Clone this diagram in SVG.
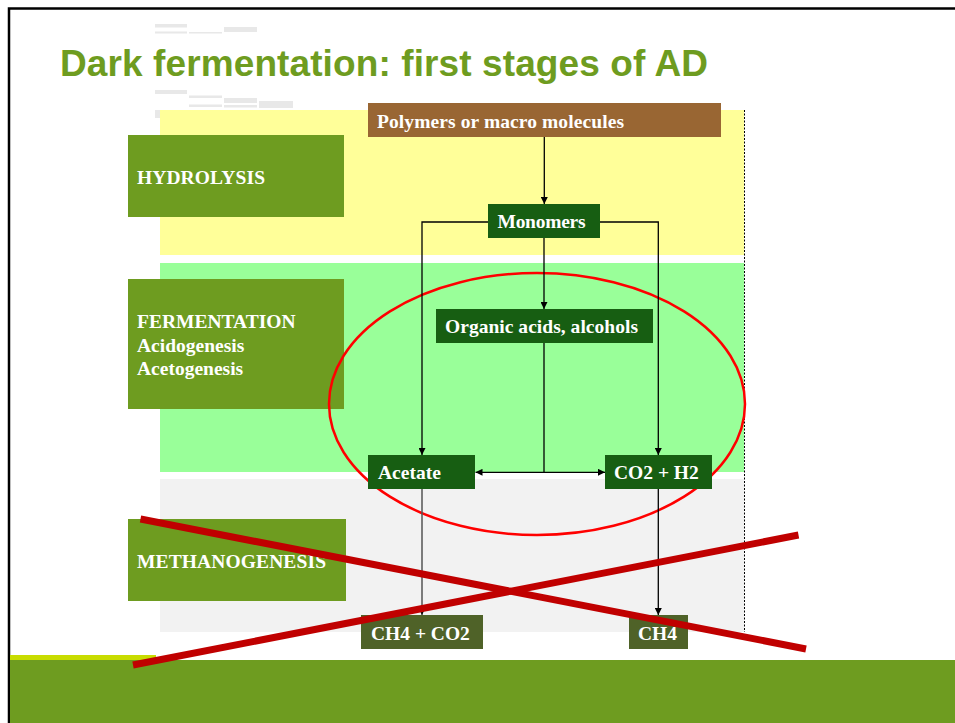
<svg xmlns="http://www.w3.org/2000/svg" width="955" height="723" viewBox="0 0 955 723">
<defs>
<style>
.lbl{fill:#6E9C20}
.node{fill:#175E12}
.out{fill:#4F6228}
.t{font-family:"Liberation Serif","Times New Roman",serif;font-weight:bold;font-size:19.5px;fill:#FFFFFF}
.ln{stroke:#000;stroke-width:1.3;fill:none}
.deco{fill:#E8E8E8}
</style>
<marker id="ah" viewBox="0 0 10 10" refX="10" refY="5" markerWidth="7" markerHeight="7" markerUnits="userSpaceOnUse" orient="auto-start-reverse">
<path d="M0,0 L10,5 L0,10 z" fill="#000"/>
</marker>
</defs>
<rect x="0" y="0" width="955" height="723" fill="#FFFFFF"/>
<!-- frame -->
<path d="M9,723 L9,8.5 L955,8.5" stroke="#000" stroke-width="2.5" fill="none"/>
<!-- faint decorations -->
<g id="decorations">
<rect class="deco" x="155" y="24" width="32" height="3.5"/>
<rect class="deco" x="155" y="31.5" width="32" height="2"/>
<rect class="deco" x="189" y="32" width="33" height="1.5"/>
<rect class="deco" x="224" y="27" width="33" height="5"/>
<rect class="deco" x="155" y="90" width="32" height="4"/>
<rect class="deco" x="189" y="95.5" width="33" height="2.5"/>
<rect class="deco" x="189" y="104.5" width="33" height="2.5"/>
<rect class="deco" x="224" y="98" width="33" height="5"/>
<rect class="deco" x="224" y="105" width="33" height="2.5"/>
<rect class="deco" x="259" y="101" width="34" height="7"/>
<rect class="deco" x="155" y="110" width="5" height="8"/>
</g>
<text x="60" y="76" font-family="Liberation Sans, Arial, sans-serif" font-weight="bold" font-size="37" fill="#6E9C20" textLength="648">Dark fermentation: first stages of AD</text>
<!-- bands -->
<g id="bands">
<rect x="160" y="110" width="584" height="145" fill="#FFFF99"/>
<rect x="160" y="263" width="584" height="209" fill="#99FF99"/>
<rect x="160" y="479" width="584" height="153" fill="#F2F2F2"/>
<line x1="744.5" y1="110" x2="744.5" y2="632" stroke="#000" stroke-width="1" stroke-dasharray="2,1.5"/>
</g>
<!-- stage labels -->
<g id="hydrolysis">
<rect class="lbl" x="128" y="135" width="216" height="82"/>
<text class="t" x="137" y="184" textLength="128">HYDROLYSIS</text>
</g>
<g id="fermentation">
<rect class="lbl" x="128" y="279" width="216" height="130"/>
<text class="t" x="137" y="328">FERMENTATION</text>
<text class="t" x="137" y="352">Acidogenesis</text>
<text class="t" x="137" y="375">Acetogenesis</text>
</g>
<g id="methanogenesis">
<rect class="lbl" x="128" y="519" width="218" height="82"/>
<text class="t" x="137" y="568" textLength="189">METHANOGENESIS</text>
</g>
<!-- red ellipse -->
<ellipse cx="537" cy="404" rx="208" ry="131" fill="none" stroke="#FF0000" stroke-width="2.5"/>
<!-- connectors -->
<g id="connectors">
<line class="ln" x1="544.3" y1="137" x2="544.3" y2="204" marker-end="url(#ah)"/>
<polyline class="ln" points="488,222 422,222 422,455" marker-end="url(#ah)"/>
<polyline class="ln" points="600,222 658.3,222 658.3,455" marker-end="url(#ah)"/>
<line class="ln" x1="544" y1="238" x2="544" y2="309" marker-end="url(#ah)"/>
<line class="ln" x1="544" y1="343" x2="544" y2="472.3"/>
<line class="ln" x1="475.5" y1="472.3" x2="605" y2="472.3" marker-start="url(#ah)" marker-end="url(#ah)"/>
<line x1="422" y1="489" x2="422" y2="615" stroke="#555" stroke-width="1.5" marker-end="url(#ah)"/>
<line class="ln" x1="658.3" y1="489" x2="658.3" y2="615" marker-end="url(#ah)"/>
</g>
<!-- nodes -->
<g id="polymers">
<rect x="368" y="103" width="353" height="34" fill="#996633"/>
<text class="t" x="377" y="128" textLength="247">Polymers or macro molecules</text>
</g>
<g id="monomers">
<rect class="node" x="488" y="204" width="112" height="34"/>
<text class="t" x="497.5" y="228" textLength="88">Monomers</text>
</g>
<g id="organic">
<rect class="node" x="436" y="309" width="217" height="34"/>
<text class="t" x="445" y="333" textLength="193">Organic acids, alcohols</text>
</g>
<g id="acetate">
<rect class="node" x="368" y="455" width="107" height="34"/>
<text class="t" x="378" y="479">Acetate</text>
</g>
<g id="co2h2">
<rect class="node" x="605" y="455" width="107" height="34"/>
<text class="t" x="614" y="479">CO2 + H2</text>
</g>
<g id="ch4co2">
<rect class="out" x="361" y="615" width="122" height="34"/>
<text class="t" x="371" y="640">CH4 + CO2</text>
</g>
<g id="ch4">
<rect class="out" x="629" y="615" width="59" height="34"/>
<text class="t" x="638" y="640">CH4</text>
</g>
<!-- bottom bar -->
<rect x="10" y="655" width="146" height="5" fill="#C8DC00"/>
<rect x="10" y="660" width="945" height="63" fill="#6E9C20"/>
<!-- red cross -->
<g id="cross" stroke="#C00000" stroke-width="7">
<line x1="140.5" y1="519" x2="806" y2="649"/>
<line x1="133" y1="665" x2="798.5" y2="535"/>
</g>
</svg>
